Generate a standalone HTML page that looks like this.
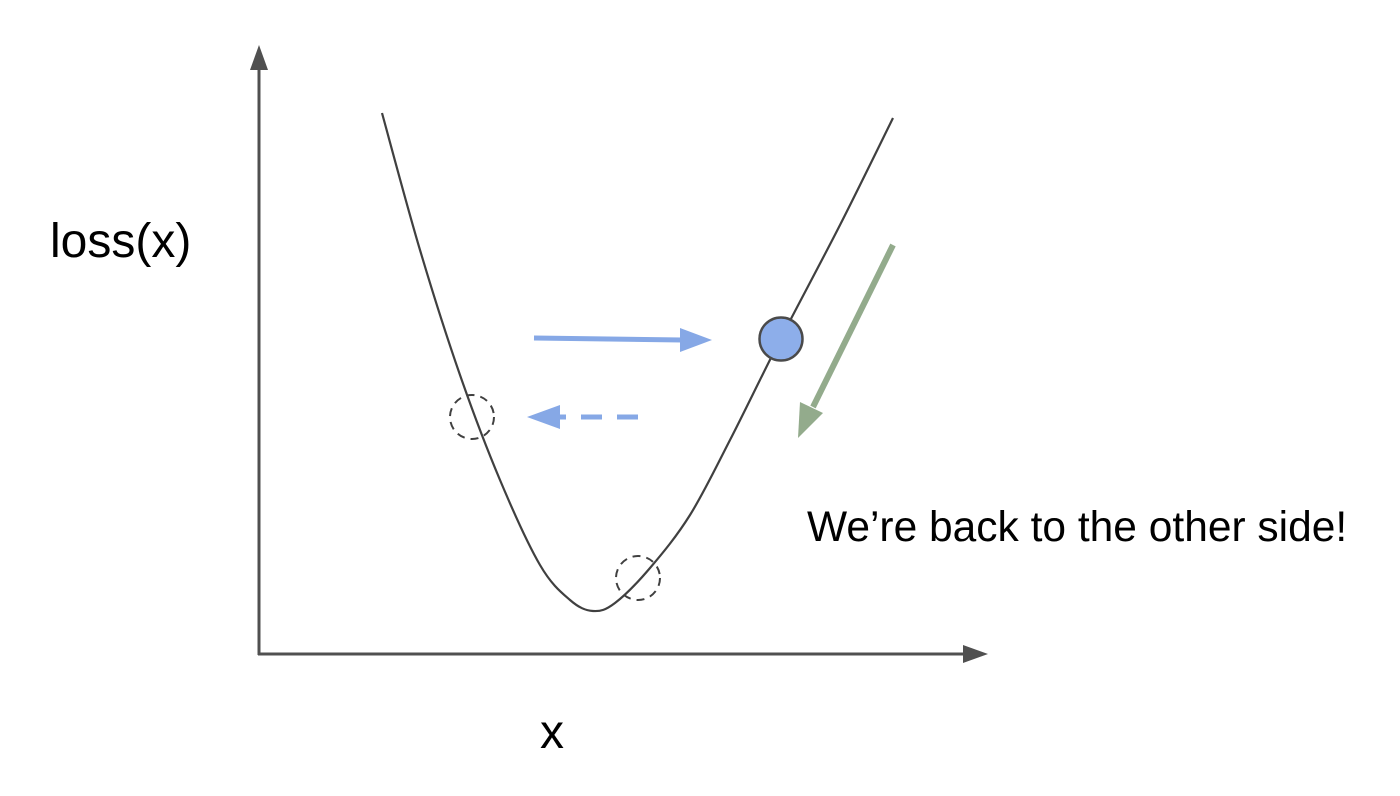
<!DOCTYPE html>
<html><head><meta charset="utf-8"><style>
html,body{margin:0;padding:0;background:#fff;}
svg{display:block;}
text{font-family:"Liberation Sans",sans-serif;fill:#000;}
</style></head><body>
<svg id="chart" width="1400" height="796" viewBox="0 0 1400 796">
  <g>
    <line x1="259" y1="655" x2="259" y2="68" stroke="#505050" stroke-width="3"/>
    <polygon points="259,45 250,70 268,70" fill="#505050"/>
  </g>
  <g>
    <line x1="258" y1="654" x2="965" y2="654" stroke="#505050" stroke-width="3"/>
    <polygon points="988,654 963,645 963,663" fill="#505050"/>
  </g>
  <text x="50" y="257" font-size="48">loss(x)</text>
  <text x="540" y="748" font-size="48">x</text>
  <text x="807" y="541" font-size="42.5">We’re back to the other side!</text>
  <path id="curve" fill="none" stroke="#404040" stroke-width="2.2"/>
  <g>
    <line x1="534" y1="338" x2="682" y2="340" stroke="#86a8e6" stroke-width="5"/>
    <polygon points="712,340 680,328 680,352" fill="#86a8e6"/>
  </g>
  <g>
    <line x1="638" y1="417" x2="560" y2="417" stroke="#86a8e6" stroke-width="5" stroke-dasharray="21,15"/>
    <polygon points="527,417 560,405 560,429" fill="#86a8e6"/>
  </g>
  <g>
    <line x1="893" y1="245" x2="813" y2="407" stroke="#93ab8c" stroke-width="6"/>
    <polygon points="798,438 800,402 823,413" fill="#93ab8c"/>
  </g>
  <circle cx="781" cy="339" r="21.5" fill="#8daeea" stroke="#4a4a4a" stroke-width="2.5"/>
  <circle cx="472" cy="417" r="22" fill="none" stroke="#404040" stroke-width="2" stroke-dasharray="8,6"/>
  <circle cx="638" cy="578" r="22" fill="none" stroke="#404040" stroke-width="2" stroke-dasharray="8,6"/>
</svg>
<script>
const xs = [123, 161, 201, 241, 281, 311, 334, 356, 391, 431, 471, 521, 581, 634];
const losses = [542, 405, 280, 175, 90, 55, 44, 52, 87, 140, 215, 315, 430, 537];
const ox = 259, oy = 655;
function xScale(v){ return ox + v; }
function yScale(v){ return oy - v; }
const pts = xs.map((v,i)=>[xScale(v), yScale(losses[i])]);
let d = 'M' + pts[0][0] + ',' + pts[0][1];
for (let i=0;i<pts.length-1;i++){
  const p0 = pts[Math.max(0,i-1)], p1 = pts[i], p2 = pts[i+1], p3 = pts[Math.min(pts.length-1,i+2)];
  const c1x = p1[0] + (p2[0]-p0[0])/6, c1y = p1[1] + (p2[1]-p0[1])/6;
  const c2x = p2[0] - (p3[0]-p1[0])/6, c2y = p2[1] - (p3[1]-p1[1])/6;
  d += ' C' + c1x + ',' + c1y + ' ' + c2x + ',' + c2y + ' ' + p2[0] + ',' + p2[1];
}
document.getElementById('curve').setAttribute('d', d);
</script>
</body></html>
